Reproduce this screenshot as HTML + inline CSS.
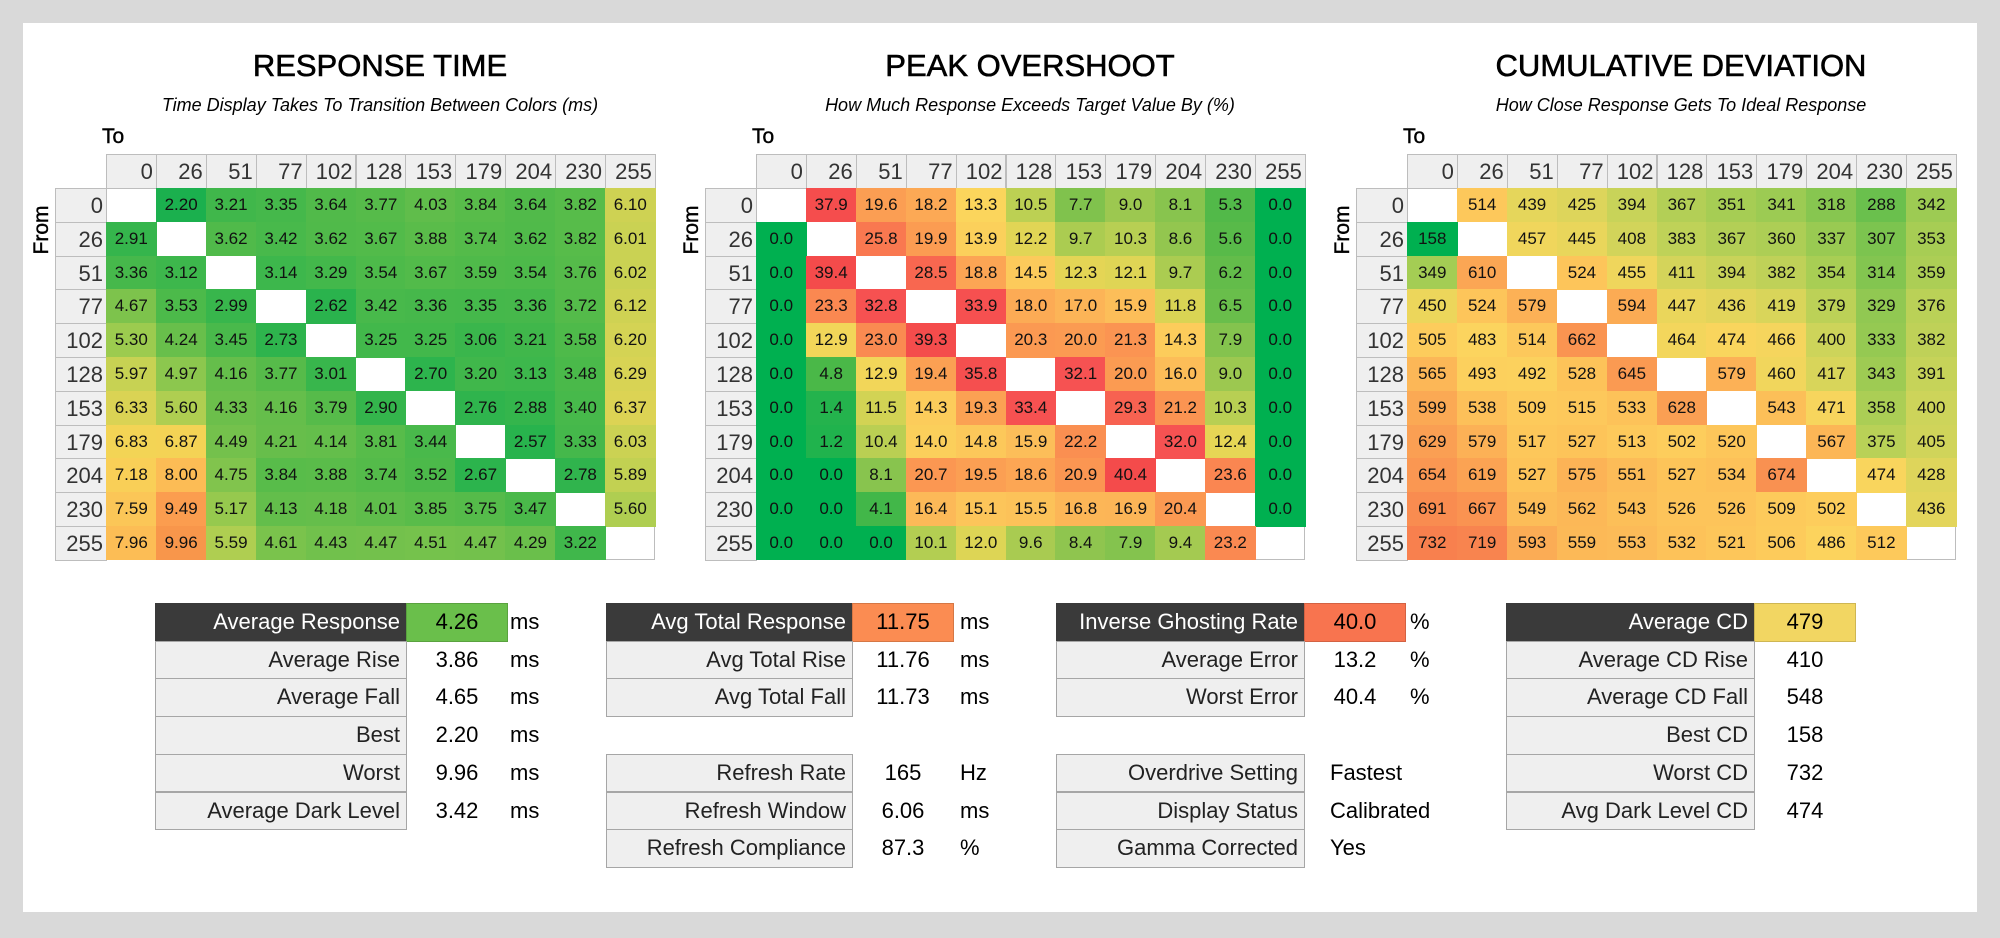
<!DOCTYPE html>
<html><head><meta charset="utf-8"><style>
body{margin:0;width:2000px;height:938px;background:#d9d9d9;position:relative;overflow:hidden;font-family:"Liberation Sans",sans-serif;}
#panel{position:absolute;left:23px;top:23px;width:1954px;height:889px;background:#fff;}
.a{position:absolute;box-sizing:border-box;}
.title{position:absolute;font-size:31px;color:#000;text-align:center;width:600px;-webkit-text-stroke:0.6px #000;}
.sub{position:absolute;font-size:18px;font-style:italic;color:#000;text-align:center;width:600px;}
.hd{background:#efefef;border:1px solid #bdbdbd;color:#333;font-size:22px;text-align:right;padding-right:3px;line-height:33px;}
.cell{font-size:17px;text-align:center;color:#111;line-height:34px;}
.lab{background:#efefef;border:1px solid #a6a6a6;font-size:22px;text-align:right;padding-right:6px;color:#222;line-height:36px;}
.labd{background:#3a3a3a;border:1px solid #3a3a3a;color:#fff;}
.val{font-size:22px;color:#000;line-height:37px;}
</style></head><body>
<div id="panel"></div>
<div id="root"></div>
<script>
const cols=["0","26","51","77","102","128","153","179","204","230","255"];
const rtValues=[
[null,2.20,3.21,3.35,3.64,3.77,4.03,3.84,3.64,3.82,6.10],
[2.91,null,3.62,3.42,3.62,3.67,3.88,3.74,3.62,3.82,6.01],
[3.36,3.12,null,3.14,3.29,3.54,3.67,3.59,3.54,3.76,6.02],
[4.67,3.53,2.99,null,2.62,3.42,3.36,3.35,3.36,3.72,6.12],
[5.30,4.24,3.45,2.73,null,3.25,3.25,3.06,3.21,3.58,6.20],
[5.97,4.97,4.16,3.77,3.01,null,2.70,3.20,3.13,3.48,6.29],
[6.33,5.60,4.33,4.16,3.79,2.90,null,2.76,2.88,3.40,6.37],
[6.83,6.87,4.49,4.21,4.14,3.81,3.44,null,2.57,3.33,6.03],
[7.18,8.00,4.75,3.84,3.88,3.74,3.52,2.67,null,2.78,5.89],
[7.59,9.49,5.17,4.13,4.18,4.01,3.85,3.75,3.47,null,5.60],
[7.96,9.96,5.59,4.61,4.43,4.47,4.51,4.47,4.29,3.22,null]];
const osValues=[
[null,37.9,19.6,18.2,13.3,10.5,7.7,9.0,8.1,5.3,0.0],
[0.0,null,25.8,19.9,13.9,12.2,9.7,10.3,8.6,5.6,0.0],
[0.0,39.4,null,28.5,18.8,14.5,12.3,12.1,9.7,6.2,0.0],
[0.0,23.3,32.8,null,33.9,18.0,17.0,15.9,11.8,6.5,0.0],
[0.0,12.9,23.0,39.3,null,20.3,20.0,21.3,14.3,7.9,0.0],
[0.0,4.8,12.9,19.4,35.8,null,32.1,20.0,16.0,9.0,0.0],
[0.0,1.4,11.5,14.3,19.3,33.4,null,29.3,21.2,10.3,0.0],
[0.0,1.2,10.4,14.0,14.8,15.9,22.2,null,32.0,12.4,0.0],
[0.0,0.0,8.1,20.7,19.5,18.6,20.9,40.4,null,23.6,0.0],
[0.0,0.0,4.1,16.4,15.1,15.5,16.8,16.9,20.4,null,0.0],
[0.0,0.0,0.0,10.1,12.0,9.6,8.4,7.9,9.4,23.2,null]];
const cdValues=[
[null,514,439,425,394,367,351,341,318,288,342],
[158,null,457,445,408,383,367,360,337,307,353],
[349,610,null,524,455,411,394,382,354,314,359],
[450,524,579,null,594,447,436,419,379,329,376],
[505,483,514,662,null,464,474,466,400,333,382],
[565,493,492,528,645,null,579,460,417,343,391],
[599,538,509,515,533,628,null,543,471,358,400],
[629,579,517,527,513,502,520,null,567,375,405],
[654,619,527,575,551,527,534,674,null,474,428],
[691,667,549,562,543,526,526,509,502,null,436],
[732,719,593,559,553,532,521,506,486,512,null]];
const rtStops=[[2.2,"#1bb04e"],[3.0,"#38b64c"],[3.6,"#4fba4a"],[4.3,"#6abf4b"],[5.3,"#9ccb4f"],[6.0,"#c9d253"],[6.8,"#f3d455"],[7.3,"#fbcd58"],[8.0,"#fcbc55"],[9.5,"#fb9d4f"],[10,"#f8954b"]];
const osStops=[[0,"#00b050"],[1.3,"#23b34d"],[5,"#4cb848"],[8,"#86c34e"],[10.5,"#bcd053"],[12.5,"#e8d655"],[13.3,"#fbd55c"],[15,"#fcc65a"],[18,"#fcab55"],[20,"#fb9b52"],[23,"#fa8a51"],[28,"#f86a50"],[32,"#f65252"],[41,"#f44a4a"]];
const cdStops=[[158,"#00b050"],[290,"#6cc04d"],[350,"#a5cd54"],[400,"#cdd45a"],[450,"#ecd65b"],[480,"#fcd55e"],[520,"#fdc65a"],[560,"#fcb957"],[600,"#fba954"],[650,"#fa9852"],[732,"#f8804e"]];
function hx(c){return [1,3,5].map(i=>parseInt(c.substr(i,2),16));}
function colorFor(v,st){
 if(v<=st[0][0])return st[0][1];
 for(let i=1;i<st.length;i++){if(v<=st[i][0]){const a=hx(st[i-1][1]),b=hx(st[i][1]);const t=(v-st[i-1][0])/(st[i][0]-st[i-1][0]);return "rgb("+a.map((x,k)=>Math.round(x+(b[k]-x)*t)).join(",")+")";}}
 return st[st.length-1][1];}
const root=document.getElementById('root');
function mk(cls,x,y,w,h,txt,name,style){const d=document.createElement('div');d.className='a '+cls;d.style.left=x+'px';d.style.top=y+'px';if(w!=null)d.style.width=w+'px';if(h!=null)d.style.height=h+'px';if(txt!=null)d.textContent=txt;


if(style)Object.assign(d.style,style);root.appendChild(d);return d;}
const tables=[
{ox:0,vals:rtValues,stops:rtStops,fmt:v=>v.toFixed(2),title:"RESPONSE TIME",sub:"Time Display Takes To Transition Between Colors (ms)",key:"response-time"},
{ox:650,vals:osValues,stops:osStops,fmt:v=>v.toFixed(1),title:"PEAK OVERSHOOT",sub:"How Much Response Exceeds Target Value By (%)",key:"overshoot"},
{ox:1301,vals:cdValues,stops:cdStops,fmt:v=>String(v),title:"CUMULATIVE DEVIATION",sub:"How Close Response Gets To Ideal Response",key:"cumulative-deviation"}];
const CW=49.9,RH=33.8,X0=106,Y0=188;
tables.forEach(t=>{
 const ox=t.ox;
 mk('title',ox+380-300,48,600,null,t.title,t.key+'-title');
 mk('sub',ox+380-300,95,600,null,t.sub,t.key+'-subtitle');
 mk('',ox+102,125,40,30,"To",t.key+'-to-label',{fontSize:'21px',webkitTextStroke:'0.4px #000'});
 mk('',ox+44-30,216,60,28,"From",t.key+'-from-label',{fontSize:'21px',transform:'rotate(-90deg)',textAlign:'center',webkitTextStroke:'0.4px #000'});
 cols.forEach((c,j)=>mk('hd',ox+X0+j*CW,154,CW+1,35,c,t.key+'-col-header'));
 cols.forEach((c,i)=>mk('hd',ox+55,Y0+i*RH,52,RH+1,c,t.key+'-row-header'));
 mk('',ox+X0,Y0,11*CW,11*RH,null,t.key+'-grid',{border:'1px solid #bdbdbd',background:'#fff'});
 t.vals.forEach((row,i)=>row.forEach((v,j)=>{
  if(v===null)return;
  mk('cell',ox+X0+j*CW,Y0+i*RH,CW+0.6,RH+0.6,t.fmt(v),t.key+'-cell',{background:colorFor(v,t.stops)});
 }));
});
const RY=603,RR=37.7;
const blocks=[
{x:155,vx:406,ux:510,rows:[[0,"Average Response","4.26","ms","#6abf4b"],[1,"Average Rise","3.86","ms"],[2,"Average Fall","4.65","ms"],[3,"Best","2.20","ms"],[4,"Worst","9.96","ms"],[5,"Average Dark Level","3.42","ms"]]},
{x:606,vx:852,ux:960,rows:[[0,"Avg Total Response","11.75","ms","#fb8c52"],[1,"Avg Total Rise","11.76","ms"],[2,"Avg Total Fall","11.73","ms"],[4,"Refresh Rate","165","Hz"],[5,"Refresh Window","6.06","ms"],[6,"Refresh Compliance","87.3","%"]]},
{x:1056,vx:1304,ux:1410,rows:[[0,"Inverse Ghosting Rate","40.0","%","#f8744f"],[1,"Average Error","13.2","%"],[2,"Worst Error","40.4","%"],[4,"Overdrive Setting","Fastest","",null,1],[5,"Display Status","Calibrated","",null,1],[6,"Gamma Corrected","Yes","",null,1]]},
{x:1506,vx:1754,ux:1870,rows:[[0,"Average CD","479","","#f2d662"],[1,"Average CD Rise","410",""],[2,"Average CD Fall","548",""],[3,"Best CD","158",""],[4,"Worst CD","732",""],[5,"Avg Dark Level CD","474",""]]}];
blocks.forEach((b,bi)=>{
 b.rows.forEach(r=>{
  const y=RY+r[0]*RR;
  mk('lab'+(r[0]===0?' labd':''),b.x,y,b.vx-b.x+1,RR+1,r[1],'stat-label');
  if(r[4])mk('',b.vx,y,102,RR+1,null,'stat-highlight',{background:r[4],border:'1px solid rgba(0,0,0,0.15)'});
  if(r[5])mk('val',b.vx+26,y,200,RR,r[2],'stat-value');
  else mk('val',b.vx,y,102,RR,r[2],'stat-value',{textAlign:'center'});
  if(r[3])mk('val',b.ux,y,50,RR,r[3],'stat-unit');
 });
});
</script>
</body></html>
